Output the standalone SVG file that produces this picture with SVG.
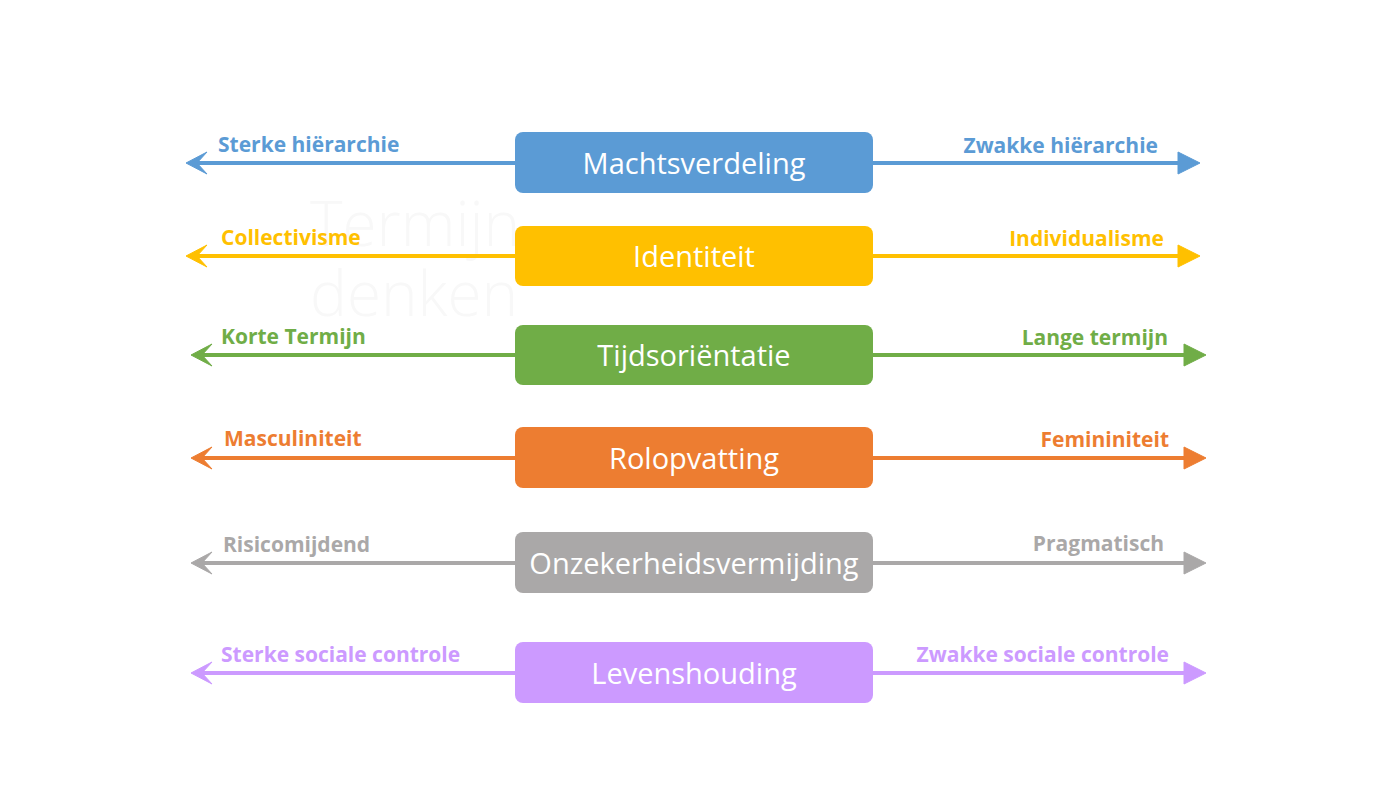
<svg xmlns="http://www.w3.org/2000/svg" xmlns:xlink="http://www.w3.org/1999/xlink" width="1386" height="810" viewBox="0 0 1386 810">
<defs>
<style>
.box text{font-family:"Open Sans","Liberation Sans",sans-serif;font-size:29px;fill:#fff;text-anchor:middle}
.lbl{font-family:"Open Sans","Liberation Sans",sans-serif;font-size:21px;font-weight:bold}
.r{text-anchor:end}
.ghost{font-family:"Open Sans","Liberation Sans",sans-serif;font-size:62px;font-weight:300;fill:#f8f8f8}
.c1{fill:#5b9bd5;stroke:#5b9bd5}.c2{fill:#ffc000;stroke:#ffc000}.c3{fill:#70ad47;stroke:#70ad47}
.c4{fill:#ed7d31;stroke:#ed7d31}.c5{fill:#aaa8a8;stroke:#aaa8a8}.c6{fill:#cc9aff;stroke:#cc9aff}
text.c1,text.c2,text.c3,text.c4,text.c5,text.c6{stroke:none}
line{stroke-width:4}
use{stroke:none}
</style>
<path id="hR" d="M-22,-11 L0,0 L-22,11 Z"/>
<path id="hL" d="M0,0 L21,-11 L11,0 L21,11 Z"/>
</defs>
<rect width="1386" height="810" fill="#fff"/>
<g id="ghost">
<text class="ghost" x="310" y="246">Termijn</text>
<text class="ghost" x="310" y="316">denken</text>
</g>
<g id="connectors">
<line class="c1" x1="192" y1="163" x2="1182" y2="163"/>
<use xlink:href="#hL" class="c1" x="186" y="163"/>
<use xlink:href="#hR" class="c1" x="1200" y="163"/>
<line class="c2" x1="192" y1="256" x2="1182" y2="256"/>
<use xlink:href="#hL" class="c2" x="186" y="256"/>
<use xlink:href="#hR" class="c2" x="1200" y="256"/>
<line class="c3" x1="197" y1="355" x2="1188" y2="355"/>
<use xlink:href="#hL" class="c3" x="191" y="355"/>
<use xlink:href="#hR" class="c3" x="1206" y="355"/>
<line class="c4" x1="197" y1="458" x2="1188" y2="458"/>
<use xlink:href="#hL" class="c4" x="191" y="458"/>
<use xlink:href="#hR" class="c4" x="1206" y="458"/>
<line class="c5" x1="197" y1="563" x2="1188" y2="563"/>
<use xlink:href="#hL" class="c5" x="191" y="563"/>
<use xlink:href="#hR" class="c5" x="1206" y="563"/>
<line class="c6" x1="197" y1="673" x2="1188" y2="673"/>
<use xlink:href="#hL" class="c6" x="191" y="673"/>
<use xlink:href="#hR" class="c6" x="1206" y="673"/>
</g>
<g id="labels">
<text class="lbl c1" x="218" y="152">Sterke hiërarchie</text>
<text class="lbl c1 r" x="1158" y="153">Zwakke hiërarchie</text>
<text class="lbl c2" x="221" y="245">Collectivisme</text>
<text class="lbl c2 r" x="1164" y="246">Individualisme</text>
<text class="lbl c3" x="221" y="344">Korte Termijn</text>
<text class="lbl c3 r" x="1168" y="345">Lange termijn</text>
<text class="lbl c4" x="224" y="446">Masculiniteit</text>
<text class="lbl c4 r" x="1169" y="447">Femininiteit</text>
<text class="lbl c5" x="223" y="552">Risicomijdend</text>
<text class="lbl c5 r" x="1164" y="551">Pragmatisch</text>
<text class="lbl c6" x="221" y="662">Sterke sociale controle</text>
<text class="lbl c6 r" x="1169" y="662">Zwakke sociale controle</text>
</g>
<g id="n1" class="box"><rect x="515" y="132" width="358" height="61" rx="8" fill="#5b9bd5"/><text x="694" y="174">Machtsverdeling</text></g>
<g id="n2" class="box"><rect x="515" y="226" width="358" height="60" rx="8" fill="#ffc000"/><text x="694" y="267">Identiteit</text></g>
<g id="n3" class="box"><rect x="515" y="325" width="358" height="60" rx="8" fill="#70ad47"/><text x="694" y="366">Tijdsoriëntatie</text></g>
<g id="n4" class="box"><rect x="515" y="427" width="358" height="61" rx="8" fill="#ed7d31"/><text x="694" y="469">Rolopvatting</text></g>
<g id="n5" class="box"><rect x="515" y="532" width="358" height="61" rx="8" fill="#aaa8a8"/><text x="694" y="574">Onzekerheidsvermijding</text></g>
<g id="n6" class="box"><rect x="515" y="642" width="358" height="61" rx="8" fill="#cc9aff"/><text x="694" y="684">Levenshouding</text></g>
</svg>
